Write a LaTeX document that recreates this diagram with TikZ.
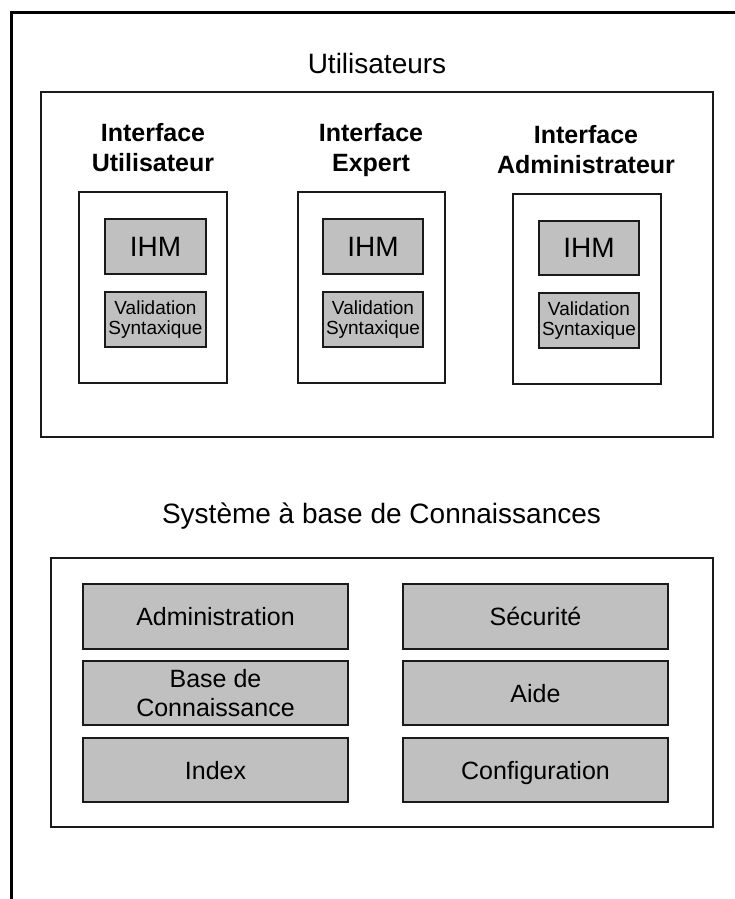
\documentclass[tikz,border=0pt]{standalone}
\usepackage{fontspec}
\setmainfont{Liberation Sans}
\definecolor{boxgray}{HTML}{C0C0C0}
\definecolor{linegray}{HTML}{1A1A1A}
\begin{document}
\begin{tikzpicture}[x=1pt,y=-1pt,
  frame/.style={line width=3.5pt,black},
  group/.style={draw=linegray,line width=1.5pt,inner sep=0pt},
  ibox/.style={draw=linegray,line width=1.5pt,inner sep=0pt,fill=white},
  gbox/.style={draw=linegray,line width=1.3pt,fill=boxgray,inner sep=0pt,align=center},
  ihm/.style={gbox,minimum width=100pt,minimum height=55pt,font=\fontsize{28}{32}\selectfont},
  valid/.style={gbox,minimum width=100pt,minimum height=55pt,font=\fontsize{19}{20.5}\selectfont},
  mod/.style={gbox,minimum width=265pt,minimum height=64pt,font=\fontsize{25}{29}\selectfont},
  onel/.style={text height=18pt,text depth=0pt},
  ititle/.style={align=center,inner sep=0pt,font=\fontsize{25}{30.5}\selectfont\bfseries},
  stitle/.style={anchor=base,inner sep=0pt,font=\fontsize{28}{32}\selectfont}
]
\useasboundingbox (0,0) rectangle (735,899);
\fill[white] (0,0) rectangle (735,899);
% outer frame (top and left sides only)
\draw[frame] (740,12.5) -- (11.5,12.5) -- (11.5,905);

% Utilisateurs group
\node[stitle] (tutil) at (377,74) {Utilisateurs};
\node[group,minimum width=672pt,minimum height=345pt] (gutil) at (377,264.5) {};

\node[ititle] (tu) at (153,147.5) {Interface\\Utilisateur};
\node[ititle] (te) at (371,150) {Interface\\Expert};
\node[ititle] (ta) at (586,149.5) {Interface\\Administrateur};

\node[ibox,minimum width=148pt,minimum height=191pt] (bu) at (153,287.5) {};
\node[ibox,minimum width=147pt,minimum height=191pt] (be) at (371.5,287.5) {};
\node[ibox,minimum width=148pt,minimum height=190pt] (ba) at (587,289) {};

\node[ihm,minimum width=101pt] (hu) at (155.5,246.5) {IHM};
\node[ihm] (he) at (373,246.5) {IHM};
\node[ihm,minimum height=54pt] (ha) at (589,248) {IHM};

\node[valid,minimum width=101pt] (vu) at (155.5,319.5) {Validation\\Syntaxique};
\node[valid] (ve) at (373,319.5) {Validation\\Syntaxique};
\node[valid] (va) at (589,320.5) {Validation\\Syntaxique};

% Systeme group
\node[stitle] (tsys) at (381.5,523) {Système à base de Connaissances};
\node[group,minimum width=662pt,minimum height=269pt] (gsys) at (382,692.5) {};

\node[mod,onel,minimum height=65pt] (adm) at (215.5,616.5) {Administration};
\node[mod] (base) at (215.5,693) {Base de\\Connaissance};
\node[mod,onel] (idx) at (215.5,770) {Index};
\node[mod,onel,minimum height=65pt] (sec) at (535.5,616.5) {Sécurité};
\node[mod,onel] (aide) at (535.5,693) {Aide};
\node[mod,onel] (conf) at (535.5,770) {Configuration};
\end{tikzpicture}
\end{document}
